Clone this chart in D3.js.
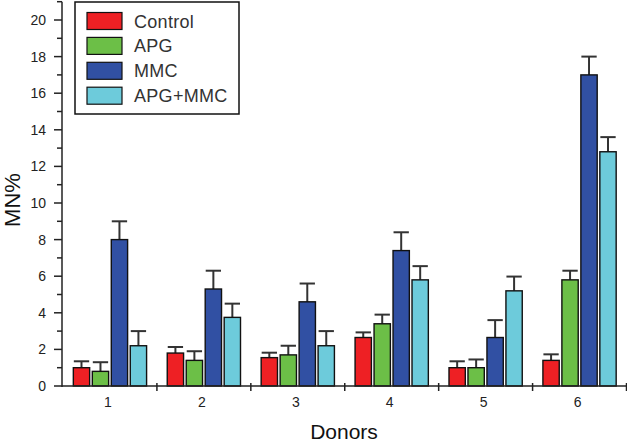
<!DOCTYPE html>
<html><head><meta charset="utf-8">
<script src="https://cdn.jsdelivr.net/npm/d3@7"></script>
<style>
html,body{margin:0;padding:0;background:#fff;}
svg{display:block;font-family:"Liberation Sans",Arial,sans-serif;}
</style></head>
<body>
<svg id="chart" width="627" height="445"></svg>
<script>
const donors = ["1","2","3","4","5","6"];
const seriesNames = ["Control","APG","MMC","APG+MMC"];
const seriesColors = ["#ee2024","#6cbf47","#3150a3","#6dcbdb"];
const controlVals = [1.0, 1.8, 1.55, 2.65, 1.0, 1.4];
const controlErr  = [0.35, 0.33, 0.27, 0.28, 0.35, 0.33];
const apgVals     = [0.8, 1.4, 1.7, 3.4, 1.0, 5.8];
const apgErr      = [0.5, 0.5, 0.5, 0.5, 0.45, 0.5];
const mmcVals     = [8.0, 5.3, 4.6, 7.4, 2.65, 17.0];
const mmcErr      = [1.0, 1.0, 1.0, 1.0, 0.95, 1.0];
const comboVals   = [2.2, 3.75, 2.2, 5.8, 5.2, 12.8];
const comboErr    = [0.8, 0.75, 0.8, 0.75, 0.78, 0.8];
const yMajorTicks = [0,2,4,6,8,10,12,14,16,18,20];
const yMinorTicks = [1,3,5,7,9,11,13,15,17,19,21];

const allVals = [controlVals, apgVals, mmcVals, comboVals];
const allErr = [controlErr, apgErr, mmcErr, comboErr];
const data = [];
donors.forEach((d,i)=>{
  seriesNames.forEach((s,j)=>{
    data.push({donor:d, series:s, idx:j, value:allVals[j][i], err:allErr[j][i]});
  });
});

const svg = d3.select("#chart");
const x0 = 63, x1 = 626.5, yBase = 386;
const y = d3.scaleLinear().domain([0,21]).range([yBase, yBase - 21*18.3]);
const x = d3.scaleBand().domain(donors).range([x0, x1]).paddingInner(0.22).paddingOuter(0.11);
const xs = d3.scaleBand().domain(seriesNames).range([0, x.bandwidth()]).paddingInner(0.14).paddingOuter(0);
const color = d3.scaleOrdinal().domain(seriesNames).range(seriesColors);

// error bars
const eb = svg.append("g");
data.forEach(d=>{
  const cx = x(d.donor) + xs(d.series) + xs.bandwidth()/2;
  const g = eb.append("g").attr("stroke","#333").attr("stroke-width",2);
  g.append("line").attr("x1",cx).attr("x2",cx).attr("y1",y(d.value)).attr("y2",y(d.value+d.err));
  g.append("line").attr("x1",x(d.donor)+xs(d.series)+0.5).attr("x2",x(d.donor)+xs(d.series)+xs.bandwidth()-0.5)
    .attr("y1",y(d.value+d.err)).attr("y2",y(d.value+d.err));
});

// bars
svg.append("g").selectAll("rect").data(data).join("rect")
  .attr("x",d=>x(d.donor)+xs(d.series))
  .attr("y",d=>y(d.value))
  .attr("width",xs.bandwidth())
  .attr("height",d=>y(0)-y(d.value))
  .attr("fill",d=>color(d.series))
  .attr("stroke","#111").attr("stroke-width",1.4);

// y axis
const yAxis = svg.append("g").attr("stroke","#222");
yAxis.append("line").attr("x1",62).attr("x2",62).attr("y1",y(0)+1).attr("y2",y(21)).attr("stroke-width",1.5);
yAxis.selectAll(".maj").data(yMajorTicks).join("line")
  .attr("x1",54).attr("x2",62).attr("y1",d=>y(d)).attr("y2",d=>y(d)).attr("stroke-width",1.5);
yAxis.selectAll(".min").data(yMinorTicks).join("line")
  .attr("x1",57).attr("x2",62).attr("y1",d=>y(d)).attr("y2",d=>y(d)).attr("stroke-width",1.5);
svg.append("g").selectAll("text").data(yMajorTicks).join("text")
  .attr("x",46).attr("y",d=>y(d)).attr("dy","0.36em").attr("text-anchor","end")
  .attr("font-size",14).attr("fill","#222").text(d=>d);

// x axis
const xAxis = svg.append("g").attr("stroke","#222").attr("stroke-width",1.5);
xAxis.append("line").attr("x1",62).attr("x2",x1).attr("y1",yBase).attr("y2",yBase);
const bounds = donors.map((d,i)=>x0 + (i+1)*x.step());
xAxis.selectAll(".xt").data(bounds).join("line")
  .attr("x1",d=>d).attr("x2",d=>d).attr("y1",yBase-3).attr("y2",yBase+5);
svg.append("g").selectAll("text").data(donors).join("text")
  .attr("x",d=>x(d)+x.bandwidth()/2-2).attr("y",407).attr("text-anchor","middle")
  .attr("font-size",14).attr("fill","#222").text(d=>d);

// axis titles
svg.append("text").attr("transform","translate(20,200) rotate(-90)").attr("text-anchor","middle")
  .attr("font-size",22).attr("fill","#111").text("MN%");
svg.append("text").attr("x",344).attr("y",439).attr("text-anchor","middle")
  .attr("font-size",21).attr("fill","#111").text("Donors");

// legend
const lg = svg.append("g");
lg.append("rect").attr("x",75).attr("y",2).attr("width",164).attr("height",112)
  .attr("fill","#fff").attr("stroke","#111").attr("stroke-width",1.5);
seriesNames.forEach((s,i)=>{
  const yy = 12.5 + i*24.9;
  lg.append("rect").attr("x",87).attr("y",yy).attr("width",35).attr("height",17)
    .attr("fill",color(s)).attr("stroke","#111").attr("stroke-width",1.2);
  lg.append("text").attr("x",134).attr("y",yy+15).attr("font-size",18).attr("fill","#333")
    .attr("letter-spacing","0.3px").text(s);
});
</script>
</body></html>
